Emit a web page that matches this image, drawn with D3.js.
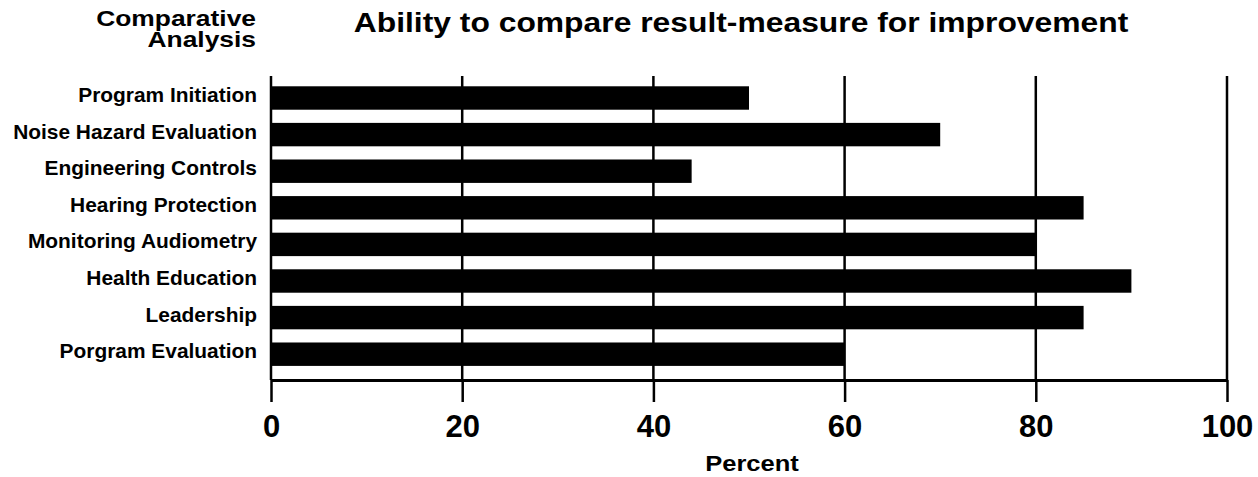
<!DOCTYPE html>
<html>
<head>
<meta charset="utf-8">
<script src="https://cdn.jsdelivr.net/npm/d3@7"></script>
<style>
  html, body { margin: 0; padding: 0; background: #fff; }
  svg { display: block; font-family: "Liberation Sans", Arial, Helvetica, sans-serif; font-weight: bold; }
</style>
</head>
<body>
<svg id="chart" width="1258" height="477"></svg>
<script>
const categories = [
  "Program Initiation",
  "Noise Hazard Evaluation",
  "Engineering Controls",
  "Hearing Protection",
  "Monitoring Audiometry",
  "Health Education",
  "Leadership",
  "Porgram Evaluation"
];
const values = [50, 70, 44, 85, 80, 90, 85, 60];
const xTicks = [0, 20, 40, 60, 80, 100];
const titleText = "Ability to compare result-measure for improvement";
const cornerTitle = ["Comparative", "Analysis"];
const xAxisTitle = "Percent";

const svg = d3.select("#chart");

const plotLeft = 271, plotRight = 1227, plotTop = 76, axisY = 380;

const x = d3.scaleLinear().domain([0, 100]).range([plotLeft, plotRight]);
const y = d3.scaleBand().domain(categories).range([79.7, 372.5])
  .paddingInner(0.36).paddingOuter(0.18);

// helper: horizontally stretched text
function stretchedText(parent, tx, ty, sx, size, anchor, str) {
  return parent.append("g")
    .attr("transform", `translate(${tx},${ty}) scale(${sx},1)`)
    .append("text")
    .attr("text-anchor", anchor)
    .style("font-size", size + "px")
    .text(str);
}

// grid lines
svg.append("g").selectAll("line").data(xTicks).join("line")
  .attr("x1", d => x(d)).attr("x2", d => x(d))
  .attr("y1", plotTop).attr("y2", axisY)
  .attr("stroke", "#000").attr("stroke-width", 2.5);

// bars
svg.append("g").selectAll("rect").data(values).join("rect")
  .attr("x", x(0))
  .attr("y", (d, i) => y(categories[i]))
  .attr("width", d => x(d) - x(0))
  .attr("height", y.bandwidth())
  .attr("fill", "#000");

// x axis
const xAxis = d3.axisBottom(x).tickValues(xTicks).tickFormat(d3.format("d"))
  .tickSizeInner(22).tickSizeOuter(0).tickPadding(13);
const gx = svg.append("g").attr("transform", `translate(0,${axisY})`).call(xAxis);
gx.select(".domain").attr("stroke", "#000").attr("stroke-width", 3);
gx.selectAll(".tick line").attr("stroke", "#000").attr("stroke-width", 2.5);
gx.selectAll(".tick text").attr("fill", "#000")
  .style("font-size", "31px").style("font-weight", "bold")
  .style("font-family", "'Liberation Sans', Arial, sans-serif");

// category labels
const labG = svg.append("g");
categories.forEach(c => {
  stretchedText(labG, 257, y(c) + y.bandwidth() / 2 + 4, 1.03, 20.3, "end", c);
});

// title
stretchedText(svg, 741, 32, 1.117, 28.5, "middle", titleText);

// corner title
cornerTitle.forEach((t, i) => {
  stretchedText(svg, 256, 26 + i * 21, 1.2, 22, "end", t);
});

// x axis title
stretchedText(svg, x(50) + 3, 471, 1.16, 22, "middle", xAxisTitle);
</script>
</body>
</html>
